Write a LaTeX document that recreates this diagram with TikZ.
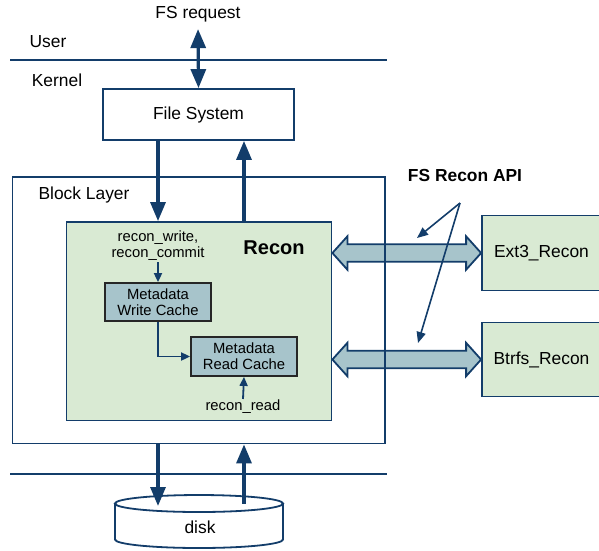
\documentclass[tikz,border=0pt]{standalone}
\usepackage{fontspec}
\setmainfont{Liberation Sans}
\usetikzlibrary{arrows.meta,calc}
\definecolor{navy}{HTML}{133D6A}
\definecolor{recongreen}{HTML}{D9EAD3}
\definecolor{cacheblue}{HTML}{A7C4CB}

\begin{document}
\begin{tikzpicture}[x=1pt,y=-1pt,
	txt/.style={inner sep=1pt,font=\fontsize{17.4}{20}\selectfont},
	small/.style={inner sep=1pt,font=\fontsize{14.8}{16}\selectfont,align=center},
	box/.style={draw=navy,line width=1.8pt,inner sep=0pt},
	cache/.style={draw=black!85,line width=1.8pt,fill=cacheblue,minimum width=106,minimum height=38,small},
	bigarrow/.style={navy,line width=3.2pt,-{Triangle[length=19pt,width=15pt]}},
	thinarrow/.style={navy,line width=1.8pt,-{Triangle[length=9pt,width=8pt]}},
	apiptr/.style={navy,line width=1.6pt,-{Triangle[length=11pt,width=9pt]}},
	apiarrow/.style={draw=navy,line width=1.8pt,fill=cacheblue,line join=miter}]
\useasboundingbox (0,0) rectangle (599,550);
\node[txt] (fsreq) at (198,14) {FS request};
\node[txt] (user) at (48,42) {User};
\node[txt] (kernel) at (57,80) {Kernel};
\coordinate (ukl) at (10,60);
\coordinate (ukr) at (387,60);
\coordinate (bdl) at (10,474);
\coordinate (bdr) at (387,474);
\draw[navy,line width=1.8pt] (ukl) -- (ukr);
\draw[navy,line width=1.8pt] (bdl) -- (bdr);
\node[box,txt,inner sep=0pt,minimum width=191,minimum height=51] (fs) at (198.5,114.5) {File System};

\node[box,txt,inner sep=0pt,fill=recongreen,minimum width=119,minimum height=75] (ext3) at (541.5,253) {Ext3\_Recon};
\node[box,txt,inner sep=0pt,fill=recongreen,minimum width=119,minimum height=74] (btrfs) at (541.5,359.5) {Btrfs\_Recon};
\node[box,fill=recongreen,minimum width=265,minimum height=198.5] (recon) at (199,321.25) {};
\node[inner sep=1pt,font=\bfseries\fontsize{20}{22}\selectfont] (recontitle) at (274,248) {Recon};
\node[small] (wlbl) at (158,246) {recon\_write,\\recon\_commit};
\node[cache] (wcache) at (158,302) {Metadata\\Write Cache};
\node[cache,minimum height=39] (rcache) at (244,356.5) {Metadata\\Read Cache};
\node[small] (rread) at (243,407) {recon\_read};
\draw[thinarrow] (wlbl.south) -- (wcache.north);
\draw[thinarrow] (wcache.south) |- (rcache.west);
\draw[thinarrow] (rread.north) -- (rcache.south);

\foreach \t in {ext3,btrfs}
	\draw[apiarrow] (recon.east |- \t.west) -- ++(15,-16.7) -- ++(0,7.9)
		-- ($(\t.west)+(-15,-8.8)$) -- ++(0,-7.9) -- (\t.west) -- ++(-15,16.7) -- ++(0,-7.9)
		-- ($(recon.east |- \t.west)+(15,8.8)$) -- ++(0,7.9) -- cycle;

\node[box,minimum width=372.5,minimum height=266.5] (block) at (198.75,310.25) {};
\node[txt] (blocklbl) at (84,195) {Block Layer};

\node[txt,font=\bfseries\fontsize{17.4}{20}\selectfont] (apilbl) at (465,176) {FS Recon API};
\coordinate (api) at (460,203);
\coordinate (apie) at (417,238);
\coordinate (apib) at (418,343);
\draw[apiptr] (api) -- (apie);
\draw[apiptr] (api) -- (apib);

\coordinate (dn) at (158,0);
\coordinate (up) at (244,0);
\draw[bigarrow,{Triangle[length=19pt,width=15pt]}-{Triangle[length=19pt,width=15pt]},shorten <=6pt] (fsreq.south) -- (fs.north);
\draw[bigarrow] (fs.south -| dn) -- (recon.north -| dn);
\draw[bigarrow] (recon.north -| up) -- (fs.south -| up);

\coordinate (disktop) at (199,503.5);
\draw[navy,line width=1.8pt,fill=white] ($(disktop)+(-84,0)$) -- ++(0,36)
	arc[start angle=180,end angle=0,x radius=84,y radius=8.5] -- ($(disktop)+(84,0)$);
\draw[navy,line width=1.8pt,fill=white] (disktop) ellipse[x radius=84,y radius=8.5];
\node[txt] (disk) at (200,527) {disk};

\draw[bigarrow] (block.south -| dn) -- ($(disktop -| dn)+(0,2.5)$);
\draw[bigarrow] (disktop -| up) -- (block.south -| up);
\end{tikzpicture}
\end{document}
